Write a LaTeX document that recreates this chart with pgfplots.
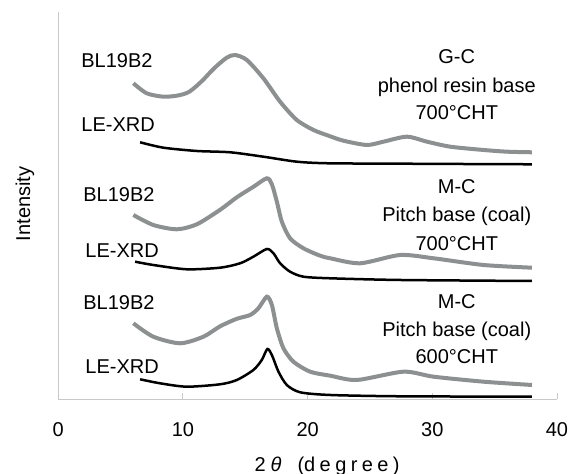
\documentclass[border=0pt]{standalone}
\usepackage{fontspec}
\setmainfont{Liberation Sans}
\usepackage{pgfplots}
\pgfplotsset{compat=1.18}
\definecolor{curvegray}{RGB}{140,144,144}
\definecolor{axisgray}{RGB}{200,200,200}

\begin{document}
\begin{tikzpicture}[font=\fontsize{10}{12}\selectfont]
\begin{axis}[
  at={(29.15pt,37.35pt)}, anchor=south west,
  scale only axis, width=249.35pt, height=193.5pt,
  xmin=0, xmax=40, ymin=0, ymax=387,
  axis x line=bottom, axis y line=left,
  axis line style={axisgray, line width=0.5pt, -},
  xtick={0,10,...,40}, ytick=\empty,
  tick align=inside, major tick length=3pt,
  tick style={axisgray, line width=0.5pt},
  /pgf/number format/assume math mode=true,
  xticklabel style={anchor=center, yshift=-15.35pt},
  xlabel={2\hspace{0.25em}\textit{θ}\hspace{0.8em}(\addfontfeature{LetterSpace=22}degree)},
  xlabel style={at={(axis description cs:0.539,-0.174)}, anchor=center},
  ylabel={Intensity},
  ylabel style={at={(axis description cs:-0.0668,0.505)}, anchor=center},
  every axis plot/.append style={smooth, tension=0.45},
  clip=false]

% G-C BL19B2
\addplot[curvegray, line width=2pt] coordinates {
 (6.02,316) (7.09,306) (8.43,302.6) (9.6,303.8) (10.5,307.5) (11.5,318)
 (12.5,331) (13.5,341.5) (14.18,344.3) (15.12,339.3) (16.45,321) (17.79,297.6)
 (19.13,279.3) (20.47,269.3) (21.67,263.6) (22.87,258.6) (24.75,254.3)
 (26.08,257.6) (27.96,262.6) (29.57,257.6) (31.44,252.6) (34.11,249.3)
 (35.99,247.6) (37.99,247)};
% G-C LE-XRD
\addplot[black, line width=1.25pt] coordinates {
 (6.56,257) (8.43,251.6) (11.11,248.3) (13.78,247) (16.45,242.6) (19.13,237.6)
 (21.67,236) (27.43,235.6) (32.25,235.3) (37.99,235)};
% M-C 700 BL19B2
\addplot[curvegray, line width=2pt] coordinates {
 (6.02,184.3) (7.62,174.3) (9.50,170) (11.11,175) (12.98,189.5) (14.32,202)
 (15.65,212.5) (16.73,221) (17.13,215) (17.53,197.6) (17.93,177.6) (18.59,161)
 (19.66,151) (21.00,143.6) (21.81,141) (24.21,136) (27.42,144.3) (30.10,141)
 (34.11,134.3) (37.99,131.6)};
% M-C 700 LE-XRD
\addplot[black, line width=1.25pt] coordinates {
 (6.16,137.6) (7.62,134.3) (10.30,130) (12.98,131.6) (14.58,136) (15.65,142.6)
 (16.73,150.3) (17.26,146) (17.79,136) (18.59,127.6) (19.66,122.6)
 (21.81,121) (27.42,119.3) (37.99,118.3)};
% M-C 600 BL19B2
\addplot[curvegray, line width=2pt] coordinates {
 (6.02,76) (7.62,62.6) (9.77,56) (11.64,62.6) (12.98,73) (14.32,80.5)
 (15.39,84.3) (16.05,91) (16.73,102.6) (17.13,94.3) (17.53,71) (18.06,51)
 (18.86,37.6) (20.20,27.6) (21.81,23.6) (23.95,19.3) (27.69,27.6)
 (30.10,22.6) (34.11,17.6) (37.99,14.3)};
% M-C 600 LE-XRD
\addplot[black, line width=1.25pt] coordinates {
 (6.56,20) (8.16,16) (10.30,12.6) (12.98,15) (14.32,19.3) (15.65,29.3)
 (16.32,39.3) (16.77,50.3) (17.13,44.3) (17.66,27.6) (18.33,14.3)
 (19.40,7) (21.81,4.3) (27.42,3) (37.99,2.6)};

\node[anchor=base west, inner sep=0] at (axis cs:1.82,331.6) {BL19B2};
\node[anchor=base west, inner sep=0] at (axis cs:1.82,267.3) {LE-XRD};
\node[anchor=base west, inner sep=0] at (axis cs:1.98,197.3) {BL19B2};
\node[anchor=base west, inner sep=0] at (axis cs:2.14,141.6) {LE-XRD};
\node[anchor=base west, inner sep=0] at (axis cs:1.98,89.6) {BL19B2};
\node[anchor=base west, inner sep=0] at (axis cs:2.14,25.6) {LE-XRD};

\node[anchor=base, inner sep=0] at (axis cs:31.96,335.3) {G-C};
\node[anchor=base, inner sep=0] at (axis cs:31.96,306.3) {phenol resin base};
\node[anchor=base, inner sep=0] at (axis cs:31.96,279.3) {700°CHT};
\node[anchor=base, inner sep=0] at (axis cs:31.96,205.6) {M-C};
\node[anchor=base, inner sep=0] at (axis cs:31.96,177.3) {Pitch base (coal)};
\node[anchor=base, inner sep=0] at (axis cs:31.96,149) {700°CHT};
\node[anchor=base, inner sep=0] at (axis cs:31.96,90.6) {M-C};
\node[anchor=base, inner sep=0] at (axis cs:31.96,63) {Pitch base (coal)};
\node[anchor=base, inner sep=0] at (axis cs:31.96,35.6) {600°CHT};
\end{axis}
\pgfresetboundingbox
\path[use as bounding box] (0,0) rectangle (284pt,237pt);
\end{tikzpicture}
\end{document}
